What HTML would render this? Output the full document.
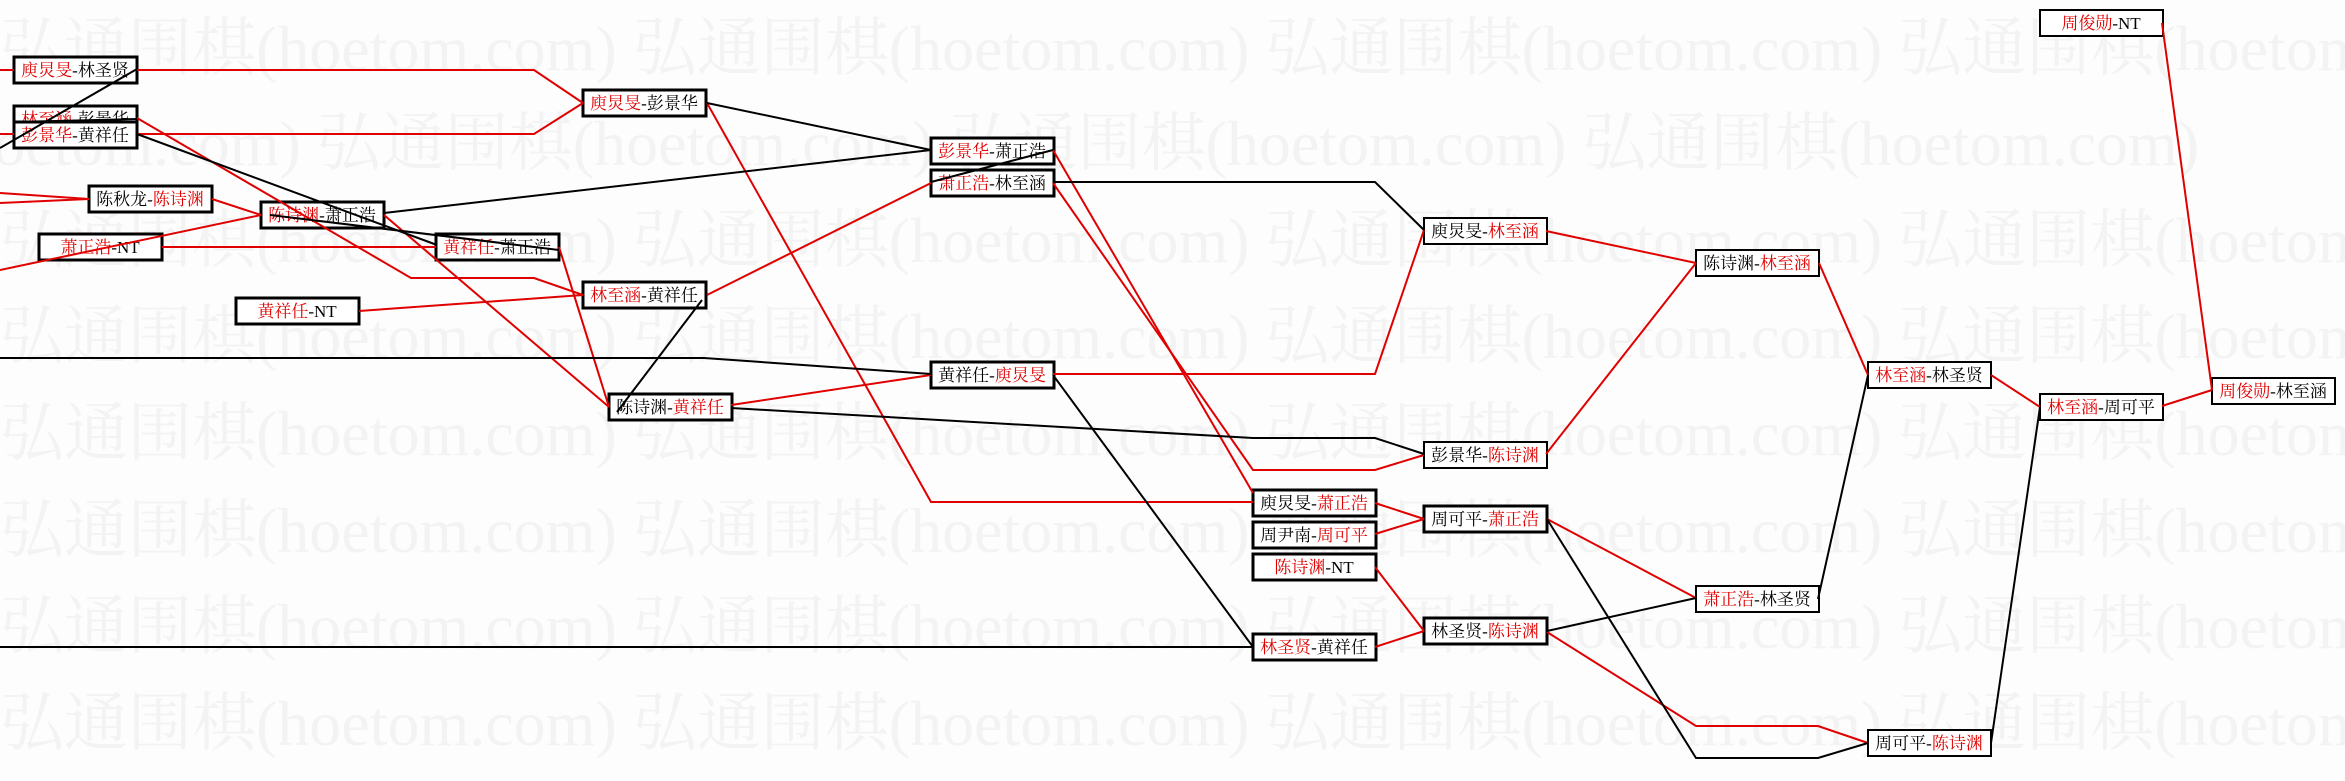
<!DOCTYPE html>
<html><head><meta charset="utf-8"><style>
html,body{margin:0;padding:0;background:#fdfdfd;}
svg{display:block;}
.wm{font-family:"Liberation Serif","Noto Serif CJK SC",serif;font-size:64px;fill:#f3f3f3;}
.b rect{fill:#fff;stroke:#000;stroke-width:3;}
.b text{font-family:"Liberation Serif","Noto Serif CJK SC",serif;font-size:17px;fill:#000;text-anchor:middle;}
.r{fill:#e00000;}
.lr{stroke:#e00000;stroke-width:2;fill:none;}
.lk{stroke:#000;stroke-width:2;fill:none;}
</style></head><body>
<svg width="2345" height="781" xmlns="http://www.w3.org/2000/svg">
<g class="wm">
<text x="0" y="70">弘通围棋(hoetom.com) 弘通围棋(hoetom.com) 弘通围棋(hoetom.com) 弘通围棋(hoetom.com)</text>
<text x="-60" y="165">(hoetom.com) 弘通围棋(hoetom.com) 弘通围棋(hoetom.com) 弘通围棋(hoetom.com)</text>
<text x="0" y="262">弘通围棋(hoetom.com) 弘通围棋(hoetom.com) 弘通围棋(hoetom.com) 弘通围棋(hoetom.com)</text>
<text x="0" y="358">弘通围棋(hoetom.com) 弘通围棋(hoetom.com) 弘通围棋(hoetom.com) 弘通围棋(hoetom.com)</text>
<text x="0" y="455">弘通围棋(hoetom.com) 弘通围棋(hoetom.com) 弘通围棋(hoetom.com) 弘通围棋(hoetom.com)</text>
<text x="0" y="552">弘通围棋(hoetom.com) 弘通围棋(hoetom.com) 弘通围棋(hoetom.com) 弘通围棋(hoetom.com)</text>
<text x="0" y="648">弘通围棋(hoetom.com) 弘通围棋(hoetom.com) 弘通围棋(hoetom.com) 弘通围棋(hoetom.com)</text>
<text x="0" y="745">弘通围棋(hoetom.com) 弘通围棋(hoetom.com) 弘通围棋(hoetom.com) 弘通围棋(hoetom.com)</text>
</g>
<g class="b">
<rect x="14" y="57" width="123" height="26"/><text x="75" y="76"><tspan class="r">庾炅旻</tspan>-林圣贤</text>
<rect x="14" y="106" width="123" height="26"/><text x="75" y="125"><tspan class="r">林至涵</tspan>-彭景华</text>
<rect x="14" y="122" width="123" height="26"/><text x="75" y="141"><tspan class="r">彭景华</tspan>-黄祥任</text>
<rect x="583" y="90" width="123" height="26"/><text x="644" y="109"><tspan class="r">庾炅旻</tspan>-彭景华</text>
<rect x="89" y="186" width="123" height="26"/><text x="150" y="205">陈秋龙-<tspan class="r">陈诗渊</tspan></text>
<rect x="261" y="202" width="123" height="26"/><text x="322" y="221"><tspan class="r">陈诗渊</tspan>-萧正浩</text>
<rect x="39" y="234" width="123" height="26"/><text x="100" y="253"><tspan class="r">萧正浩</tspan>-NT</text>
<rect x="436" y="234" width="123" height="26"/><text x="497" y="253"><tspan class="r">黄祥任</tspan>-萧正浩</text>
<rect x="583" y="282" width="123" height="26"/><text x="644" y="301"><tspan class="r">林至涵</tspan>-黄祥任</text>
<rect x="236" y="298" width="123" height="26"/><text x="297" y="317"><tspan class="r">黄祥任</tspan>-NT</text>
<rect x="609" y="394" width="123" height="26"/><text x="670" y="413">陈诗渊-<tspan class="r">黄祥任</tspan></text>
<rect x="931" y="138" width="123" height="26"/><text x="992" y="157"><tspan class="r">彭景华</tspan>-萧正浩</text>
<rect x="931" y="170" width="123" height="26"/><text x="992" y="189"><tspan class="r">萧正浩</tspan>-林至涵</text>
<rect x="931" y="362" width="123" height="26"/><text x="992" y="381">黄祥任-<tspan class="r">庾炅旻</tspan></text>
<rect x="1253" y="490" width="123" height="26"/><text x="1314" y="509">庾炅旻-<tspan class="r">萧正浩</tspan></text>
<rect x="1253" y="522" width="123" height="26"/><text x="1314" y="541">周尹南-<tspan class="r">周可平</tspan></text>
<rect x="1253" y="554" width="123" height="26"/><text x="1314" y="573"><tspan class="r">陈诗渊</tspan>-NT</text>
<rect x="1253" y="634" width="123" height="26"/><text x="1314" y="653"><tspan class="r">林圣贤</tspan>-黄祥任</text>
<rect x="1424" y="506" width="123" height="26"/><text x="1485" y="525">周可平-<tspan class="r">萧正浩</tspan></text>
<rect x="1424" y="618" width="123" height="26"/><text x="1485" y="637">林圣贤-<tspan class="r">陈诗渊</tspan></text>
</g>
<g class="b">
<rect x="1424" y="218" width="123" height="26" style="stroke-width:2"/><text x="1485" y="237">庾炅旻-<tspan class="r">林至涵</tspan></text>
<rect x="1424" y="442" width="123" height="26" style="stroke-width:2"/><text x="1485" y="461">彭景华-<tspan class="r">陈诗渊</tspan></text>
<rect x="1696" y="586" width="123" height="26" style="stroke-width:2"/><text x="1757" y="605"><tspan class="r">萧正浩</tspan>-林圣贤</text>
<rect x="1868" y="730" width="123" height="26" style="stroke-width:2"/><text x="1929" y="749">周可平-<tspan class="r">陈诗渊</tspan></text>
<rect x="2040" y="10" width="123" height="26" style="stroke-width:2"/><text x="2101" y="29"><tspan class="r">周俊勋</tspan>-NT</text>
<rect x="1696" y="250" width="123" height="26" style="stroke-width:2"/><text x="1757" y="269">陈诗渊-<tspan class="r">林至涵</tspan></text>
<rect x="1868" y="362" width="123" height="26" style="stroke-width:2"/><text x="1929" y="381"><tspan class="r">林至涵</tspan>-林圣贤</text>
<rect x="2040" y="394" width="123" height="26" style="stroke-width:2"/><text x="2101" y="413"><tspan class="r">林至涵</tspan>-周可平</text>
<rect x="2212" y="378" width="123" height="26" style="stroke-width:2"/><text x="2273" y="397"><tspan class="r">周俊勋</tspan>-林至涵</text>
</g>
<g class="lr">
<polyline points="0,70 14,70"/>
<polyline points="0,134 14,134"/>
<polyline points="137,70 534,70 583,103"/>
<polyline points="137,134 534,134 583,103"/>
<polyline points="137,118 411,278 534,278 583,295"/>
<polyline points="384,215 609,407"/>
<polyline points="212,199 261,215"/>
<polyline points="0,193 89,199"/>
<polyline points="0,203 89,199"/>
<polyline points="162,247 436,247"/>
<polyline points="0,270 261,215"/>
<polyline points="559,247 609,407"/>
<polyline points="359,311 583,295"/>
<polyline points="707,103 931,502 1253,502"/>
<polyline points="707,295 931,183"/>
<polyline points="731,405 931,375"/>
<polyline points="1053,150 1253,493"/>
<polyline points="1053,183 1253,470 1375,470 1424,455"/>
<polyline points="1053,374 1375,374 1424,230"/>
<polyline points="1546,231 1696,263"/>
<polyline points="1546,454 1696,263"/>
<polyline points="1375,503 1424,519"/>
<polyline points="1375,534 1424,519"/>
<polyline points="1375,567 1424,631"/>
<polyline points="1375,647 1424,631"/>
<polyline points="1547,519 1696,598"/>
<polyline points="1547,632 1696,726 1818,726 1868,743"/>
<polyline points="1819,263 1868,375"/>
<polyline points="1991,375 2040,407"/>
<polyline points="2162,406 2212,390"/>
<polyline points="2162,23 2212,390"/>
</g>
<g class="lk">
<polyline points="0,148 137,69"/>
<polyline points="14,122 137,119"/>
<polyline points="137,134 437,245"/>
<polyline points="270,215 559,250"/>
<polyline points="707,103 931,150"/>
<polyline points="384,213 931,150"/>
<polyline points="617,412 702,300"/>
<polyline points="0,358 704,358 931,374"/>
<polyline points="731,408 800,412 1253,438 1375,438 1424,454"/>
<polyline points="931,182 1053,150"/>
<polyline points="1053,182 1375,182 1424,230"/>
<polyline points="1053,375 1253,647"/>
<polyline points="0,647 1253,647"/>
<polyline points="1547,519 1696,758 1818,758 1868,743"/>
<polyline points="1547,631 1696,598"/>
<polyline points="1818,599 1868,375"/>
<polyline points="1991,743 2040,407"/>
</g>
</svg>
</body></html>
